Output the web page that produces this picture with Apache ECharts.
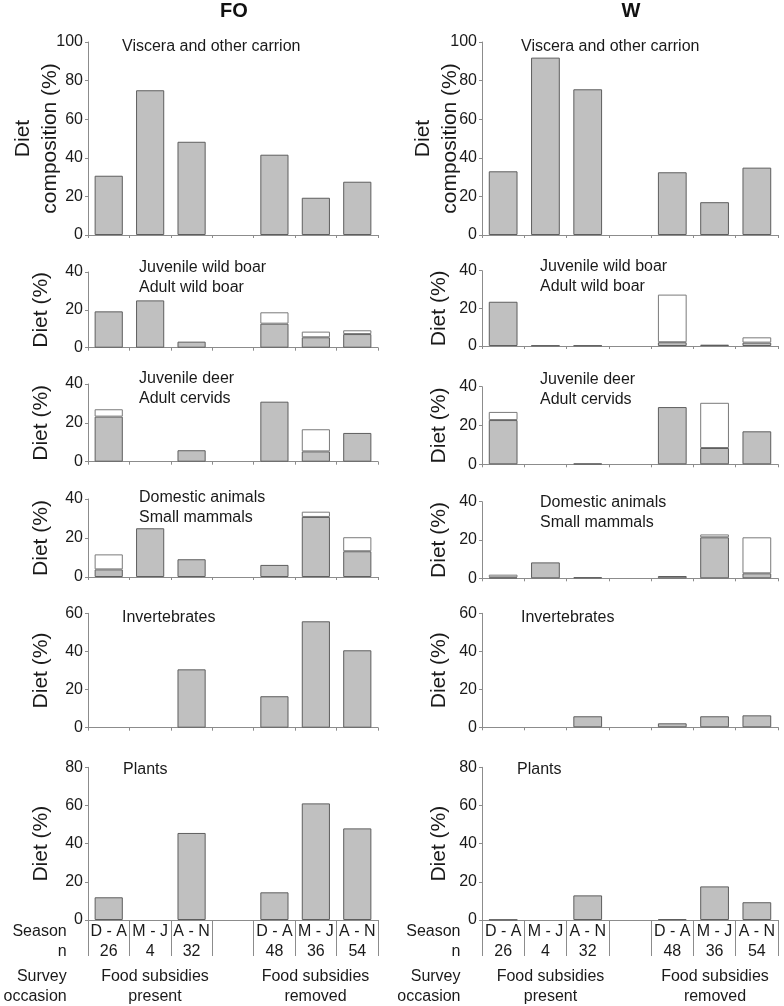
<!DOCTYPE html>
<html><head><meta charset="utf-8">
<script src="https://cdn.jsdelivr.net/npm/echarts@6/dist/echarts.min.js"></script>
<style>html,body{margin:0;padding:0;background:#fff}#c{width:784px;height:1006px}</style>
</head><body><div id="c"></div>
<script>
// ---- categories / tick labels ----
const seasons = ['D - A', 'M - J', 'A - N', '', 'D - A', 'M - J', 'A - N'];
const sampleN = ['26', '4', '32', '', '48', '36', '54'];
const columnTitles = ['FO', 'W'];
const panelTitles = [
  ['Viscera and other carrion'],
  ['Juvenile wild boar', 'Adult wild boar'],
  ['Juvenile deer', 'Adult cervids'],
  ['Domestic animals', 'Small mammals'],
  ['Invertebrates'],
  ['Plants']
];
const panelMax = [100, 40, 40, 40, 60, 80];
const yNames = ['Diet\ncomposition (%)', 'Diet (%)', 'Diet (%)', 'Diet (%)', 'Diet (%)', 'Diet (%)'];

// ---- FO values (gray = lower segment, white = upper segment) ----
const foViscera = [30.7, 75, 48.3, null, 41.6, 19.3, 27.6];
const foBoarGray = [19.2, 25, 3.2, null, 12.7, 5.5, 7.2];
const foBoarWhite = [null, null, null, null, 6.0, 3.0, 2.0];
const foDeerGray = [23.2, null, 5.9, null, 30.9, 5.3, 14.8];
const foDeerWhite = [3.8, null, null, null, null, 11.4, null];
const foDomGray = [3.9, 25, 9.1, null, 6.2, 30.8, 13.2];
const foDomWhite = [7.7, null, null, null, null, 2.7, 7.2];
const foInvert = [null, null, 30.6, null, 16.5, 55.8, 40.6];
const foPlants = [11.9, null, 45.6, null, 14.5, 61.1, 48.0];

// ---- W values ----
const wViscera = [33.0, 91.9, 75.5, null, 32.5, 17.0, 34.9];
const wBoarGray = [23.5, 0.3, 0.3, null, 2.0, 0.7, 1.8];
const wBoarWhite = [null, null, null, null, 25.3, null, 2.8];
const wDeerGray = [22.8, null, 0.4, null, 29.5, 8.4, 17.0];
const wDeerWhite = [4.2, null, null, null, null, 23.3, null];
const wDomGray = [0.5, 8.3, 0.6, null, 1.2, 21.4, 2.6];
const wDomWhite = [1.4, null, null, null, null, 1.5, 18.8];
const wInvert = [null, null, 5.8, null, 2.1, 5.8, 6.3];
const wPlants = [0.2, null, 12.9, null, 0.5, 17.6, 9.3];

const columns = [
  { gray: [foViscera, foBoarGray, foDeerGray, foDomGray, foInvert, foPlants],
    white: [null, foBoarWhite, foDeerWhite, foDomWhite, null, null] },
  { gray: [wViscera, wBoarGray, wDeerGray, wDomGray, wInvert, wPlants],
    white: [null, wBoarWhite, wDeerWhite, wDomWhite, null, null] }
];

// ---- layout ----
const FONT = '"Liberation Sans", Arial, sans-serif';
const colLeft = [88, 482], colWidth = [290, 296];
const gridTop = [[42, 272, 384, 499, 613.3, 767.3], [42, 270.7, 386.7, 501.7, 613.3, 767.3]];
const gridH = [[193, 75.7, 77.7, 78, 114.4, 152.7], [193, 75.3, 77.6, 76.6, 114, 152.7]];
const nameGap = [[24, 33, 33, 33, 33, 33], [18, 29, 29, 29, 29, 29]];
const titleX = [[122, 139, 139, 139, 122, 123], [521, 540, 540, 540, 521, 517]];
const titleY = [[46.7, 267.3, 378.3, 498, 617.3, 769.3], [46.7, 266.7, 379.3, 503, 617.3, 769.3]];
const LINE = 20;

const grids = [], xAxes = [], yAxes = [], series = [], graphics = [];
let gi = 0;
for (let c = 0; c < 2; c++) {
  for (let p = 0; p < 6; p++) {
    const bottom = p === 5;
    grids.push({ left: colLeft[c], width: colWidth[c], top: gridTop[c][p], height: gridH[c][p], outerBoundsMode: 'none', containLabel: false });
    xAxes.push({
      type: 'category', gridIndex: gi, data: seasons,
      axisLine: { lineStyle: { color: '#8c8c8c', width: 1 } },
      axisTick: { show: true, interval: 0, length: bottom ? 36 : 3, lineStyle: { color: '#8c8c8c' } },
      axisLabel: bottom ? {
        show: true, interval: 0, margin: 2, fontSize: 16, fontFamily: FONT, color: '#1a1a1a', lineHeight: 20,
        formatter: (v, i) => seasons[i] + '\n' + sampleN[i]
      } : { show: false },
      splitLine: { show: false }
    });
    yAxes.push({
      type: 'value', gridIndex: gi, min: 0, max: panelMax[p], interval: 20,
      name: yNames[p], nameLocation: 'middle', nameRotate: 90, nameGap: nameGap[c][p], nameMoveOverlap: false,
      nameTextStyle: { fontSize: 21, fontFamily: FONT, color: '#1a1a1a', lineHeight: 27 },
      axisLine: { show: true, lineStyle: { color: '#8c8c8c', width: 1 } },
      axisTick: { show: true, length: 3, lineStyle: { color: '#8c8c8c' } },
      axisLabel: { fontSize: 16, fontFamily: FONT, color: '#1a1a1a', margin: 5 },
      splitLine: { show: false }
    });
    series.push({
      type: 'bar', xAxisIndex: gi, yAxisIndex: gi, stack: 's' + gi, data: columns[c].gray[p],
      barCategoryGap: '32%', silent: true,
      itemStyle: { color: '#c0c0c0', borderColor: '#5e5e5e', borderWidth: 1 }
    });
    if (columns[c].white[p]) {
      series.push({
        type: 'bar', xAxisIndex: gi, yAxisIndex: gi, stack: 's' + gi, data: columns[c].white[p],
        barCategoryGap: '32%', silent: true,
        itemStyle: { color: '#ffffff', borderColor: '#7a7a7a', borderWidth: 1 }
      });
    }
    panelTitles[p].forEach((t, k) => {
      graphics.push({ type: 'text', x: titleX[c][p], y: titleY[c][p] + k * LINE,
        style: { text: t, fontSize: 16, fontFamily: FONT, fill: '#1a1a1a', align: 'left', verticalAlign: 'middle' } });
    });
    gi++;
  }
  // column header
  graphics.push({ type: 'text', x: colLeft[c] + colWidth[c] / 2 + 1, y: 11,
    style: { text: columnTitles[c], fontSize: 20, fontWeight: 'bold', fontFamily: FONT, fill: '#111', align: 'center', verticalAlign: 'middle' } });
}

// bottom table row labels and survey occasion texts
const rowLabelX = [66.7, 460.5];
const rowLabels = [['Season', 931.7], ['n', 951.7], ['Survey', 976.7], ['occasion', 996.7]];
const occasionX = [[155, 315.5], [550.5, 715]];
const occasionLines = [['Food subsidies', 'present'], ['Food subsidies', 'removed']];
for (let c = 0; c < 2; c++) {
  rowLabels.forEach(([t, y]) => graphics.push({ type: 'text', x: rowLabelX[c], y: y,
    style: { text: t, fontSize: 16, fontFamily: FONT, fill: '#1a1a1a', align: 'right', verticalAlign: 'middle' } }));
  for (let o = 0; o < 2; o++) {
    occasionLines[o].forEach((t, k) => graphics.push({ type: 'text', x: occasionX[c][o], y: 976.7 + k * 20,
      style: { text: t, fontSize: 16, fontFamily: FONT, fill: '#1a1a1a', align: 'center', verticalAlign: 'middle' } }));
  }
}

const chart = echarts.init(document.getElementById('c'), null, { renderer: 'canvas' });
chart.setOption({
  backgroundColor: '#ffffff',
  animation: false,
  grid: grids, xAxis: xAxes, yAxis: yAxes, series: series, graphic: graphics
});
</script></body></html>
